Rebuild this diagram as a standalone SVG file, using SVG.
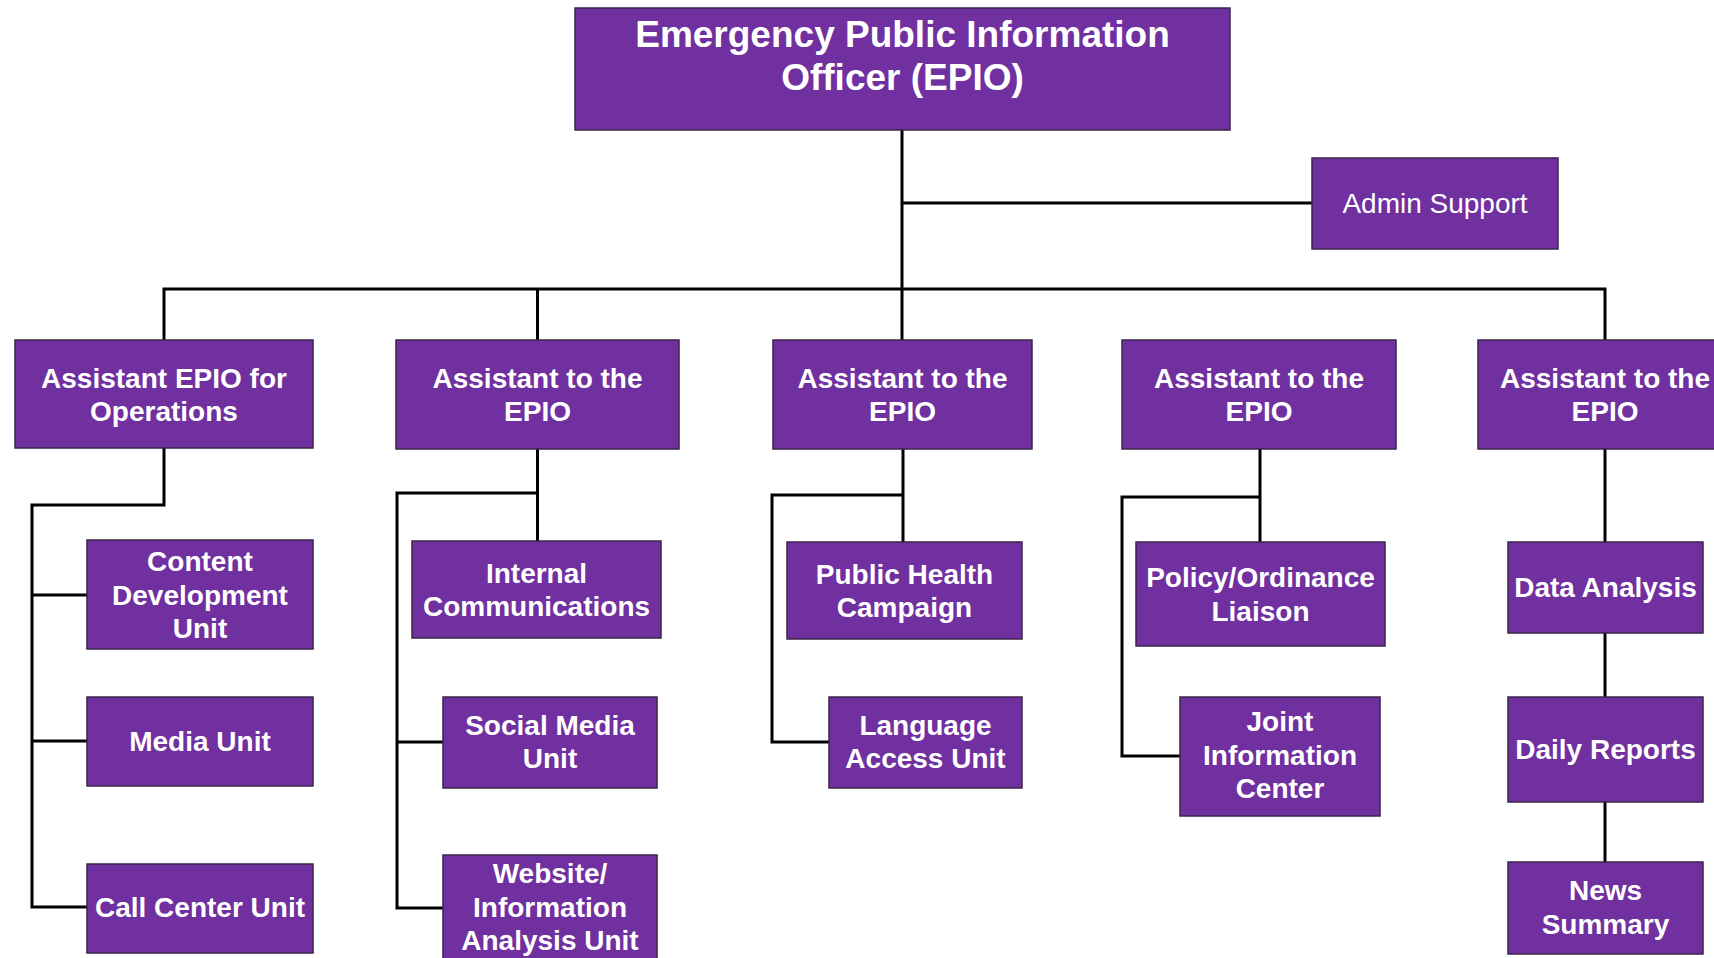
<svg xmlns="http://www.w3.org/2000/svg" width="1714" height="958" viewBox="0 0 1714 958">
  <style>
    .box { fill: #7030A0; stroke: #3a2448; stroke-width: 1.5; }
    .t { font-family: "Liberation Sans", Arial, sans-serif; font-weight: bold; font-size: 28px; fill: #ffffff; text-anchor: middle; }
    .title { font-size: 37px; }
    .reg { font-weight: normal; }
    .wire { fill: none; stroke: #000000; stroke-width: 3; stroke-linejoin: miter; }
  </style>
  <rect width="1714" height="958" fill="#ffffff"/>

  <!-- reporting lines -->
  <g id="connectors">
    <path class="wire" d="M902 130 V340"/>
    <path class="wire" d="M902 203 H1312"/>
    <path class="wire" d="M164 340 V289 H1605 V340"/>
    <path class="wire" d="M537.5 289 V340"/>
    <!-- operations branch -->
    <path class="wire" d="M164 448 V505 H32 V907 H87"/>
    <path class="wire" d="M32 595 H87"/>
    <path class="wire" d="M32 741 H87"/>
    <!-- second assistant branch -->
    <path class="wire" d="M537.5 449 V541"/>
    <path class="wire" d="M537.5 493 H397 V908 H443"/>
    <path class="wire" d="M397 742 H443"/>
    <!-- third assistant branch -->
    <path class="wire" d="M903 449 V542"/>
    <path class="wire" d="M903 495 H772 V742 H829"/>
    <!-- fourth assistant branch -->
    <path class="wire" d="M1260 449 V542"/>
    <path class="wire" d="M1260 497 H1122 V756 H1180"/>
    <!-- fifth assistant branch -->
    <path class="wire" d="M1605 449 V542"/>
    <path class="wire" d="M1605 633 V697"/>
    <path class="wire" d="M1605 802 V862"/>
  </g>

  <g id="epio">
    <rect class="box" x="575" y="8" width="655" height="122"/>
    <text class="t title" x="902.5" y="47">Emergency Public Information</text>
    <text class="t title" x="902.5" y="90">Officer (EPIO)</text>
  </g>

  <g id="admin-support">
    <rect class="box" x="1312" y="158" width="246" height="91"/>
    <text class="t reg" x="1435" y="213">Admin Support</text>
  </g>

  <g id="asst-operations">
    <rect class="box" x="15" y="340" width="298" height="108"/>
    <text class="t" x="164" y="388">Assistant EPIO for</text>
    <text class="t" x="164" y="421">Operations</text>
  </g>
  <g id="asst-2">
    <rect class="box" x="396" y="340" width="283" height="109"/>
    <text class="t" x="537.5" y="388">Assistant to the</text>
    <text class="t" x="537.5" y="421">EPIO</text>
  </g>
  <g id="asst-3">
    <rect class="box" x="773" y="340" width="259" height="109"/>
    <text class="t" x="902.5" y="388">Assistant to the</text>
    <text class="t" x="902.5" y="421">EPIO</text>
  </g>
  <g id="asst-4">
    <rect class="box" x="1122" y="340" width="274" height="109"/>
    <text class="t" x="1259" y="388">Assistant to the</text>
    <text class="t" x="1259" y="421">EPIO</text>
  </g>
  <g id="asst-5">
    <rect class="box" x="1478" y="340" width="270" height="109"/>
    <text class="t" x="1605" y="388">Assistant to the</text>
    <text class="t" x="1605" y="421">EPIO</text>
  </g>

  <g id="content-development">
    <rect class="box" x="87" y="540" width="226" height="109"/>
    <text class="t" x="200" y="571">Content</text>
    <text class="t" x="200" y="604.5">Development</text>
    <text class="t" x="200" y="638">Unit</text>
  </g>
  <g id="media-unit">
    <rect class="box" x="87" y="697" width="226" height="89"/>
    <text class="t" x="200" y="751">Media Unit</text>
  </g>
  <g id="call-center">
    <rect class="box" x="87" y="864" width="226" height="89"/>
    <text class="t" x="200" y="917">Call Center Unit</text>
  </g>

  <g id="internal-communications">
    <rect class="box" x="412" y="541" width="249" height="97"/>
    <text class="t" x="536.5" y="583">Internal</text>
    <text class="t" x="536.5" y="616">Communications</text>
  </g>
  <g id="social-media">
    <rect class="box" x="443" y="697" width="214" height="91"/>
    <text class="t" x="550" y="735">Social Media</text>
    <text class="t" x="550" y="768">Unit</text>
  </g>
  <g id="website-analysis">
    <rect class="box" x="443" y="855" width="214" height="110"/>
    <text class="t" x="550" y="883">Website/</text>
    <text class="t" x="550" y="916.5">Information</text>
    <text class="t" x="550" y="950">Analysis Unit</text>
  </g>

  <g id="public-health">
    <rect class="box" x="787" y="542" width="235" height="97"/>
    <text class="t" x="904.5" y="583.5">Public Health</text>
    <text class="t" x="904.5" y="617">Campaign</text>
  </g>
  <g id="language-access">
    <rect class="box" x="829" y="697" width="193" height="91"/>
    <text class="t" x="925.5" y="735">Language</text>
    <text class="t" x="925.5" y="768">Access Unit</text>
  </g>

  <g id="policy-liaison">
    <rect class="box" x="1136" y="542" width="249" height="104"/>
    <text class="t" x="1260.5" y="587">Policy/Ordinance</text>
    <text class="t" x="1260.5" y="620.5">Liaison</text>
  </g>
  <g id="joint-information">
    <rect class="box" x="1180" y="697" width="200" height="119"/>
    <text class="t" x="1280" y="731">Joint</text>
    <text class="t" x="1280" y="764.5">Information</text>
    <text class="t" x="1280" y="798">Center</text>
  </g>

  <g id="data-analysis">
    <rect class="box" x="1508" y="542" width="195" height="91"/>
    <text class="t" x="1605.5" y="597">Data Analysis</text>
  </g>
  <g id="daily-reports">
    <rect class="box" x="1508" y="697" width="195" height="105"/>
    <text class="t" x="1605.5" y="759">Daily Reports</text>
  </g>
  <g id="news-summary">
    <rect class="box" x="1508" y="862" width="195" height="92"/>
    <text class="t" x="1605.5" y="900">News</text>
    <text class="t" x="1605.5" y="933.5">Summary</text>
  </g>
</svg>
